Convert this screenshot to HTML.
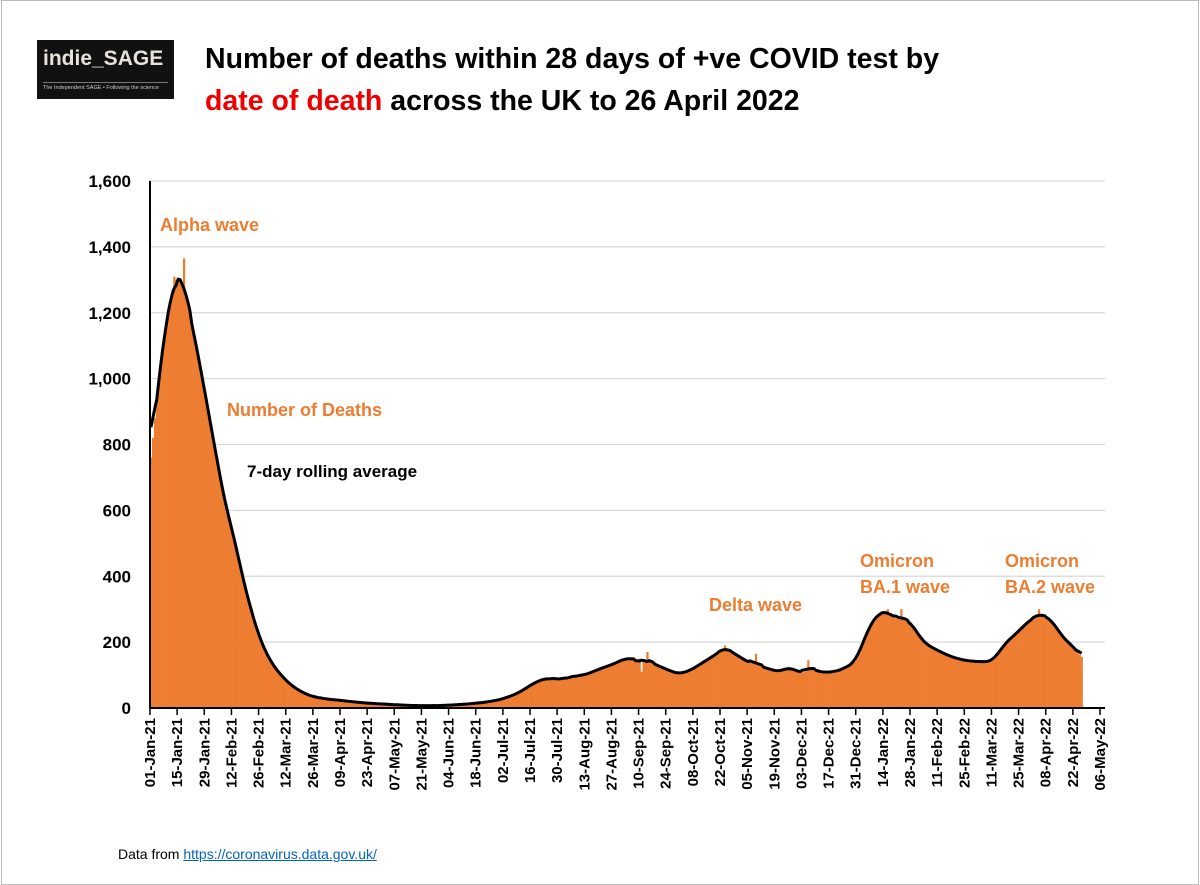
<!DOCTYPE html>
<html><head><meta charset="utf-8"><style>
body{margin:0;background:#fff;font-family:"Liberation Sans",sans-serif}
#wrap{position:relative;width:1200px;height:885px;overflow:hidden;background:#fff}
.t{position:absolute;font-family:"Liberation Sans",sans-serif;font-weight:bold;white-space:nowrap}
</style></head><body>
<div id="wrap">
<div style="position:absolute;left:1px;top:0;width:1196px;height:883px;border:1px solid #bbb"></div>
<div style="position:absolute;left:37px;top:40px;width:137px;height:59px;background:#111">
  <div style="position:absolute;left:6px;top:7px;color:#e8e2da;font-family:'Liberation Sans',sans-serif;font-weight:bold;font-size:21px">indie_SAGE</div>
  <div style="position:absolute;left:6px;top:42px;width:125px;border-top:1px solid #777"></div>
  <div style="position:absolute;left:6px;top:45px;color:#ccc;font-size:5.5px">The Independent SAGE • Following the science</div>
</div>
<div class="t" style="left:205px;top:38px;font-size:28.5px;line-height:42px;color:#000">Number of deaths within 28 days of +ve COVID test by<br><span style="color:#e00">date of death</span> across the UK to 26 April 2022</div>
<svg id="svg" width="1200" height="885" style="position:absolute;left:0;top:0"></svg>
<div class="t" style="left:160px;top:215px;font-size:18px;color:#ED7D31">Alpha wave</div>
<div class="t" style="left:227px;top:400px;font-size:18px;color:#ED7D31">Number of Deaths</div>
<div class="t" style="left:247px;top:462px;font-size:17px;color:#000">7-day rolling average</div>
<div class="t" style="left:709px;top:595px;font-size:18px;color:#ED7D31">Delta wave</div>
<div class="t" style="left:860px;top:548px;font-size:18px;line-height:26px;color:#ED7D31">Omicron<br>BA.1 wave</div>
<div class="t" style="left:1005px;top:548px;font-size:18px;line-height:26px;color:#ED7D31">Omicron<br>BA.2 wave</div>
<div style="position:absolute;left:118px;top:846px;font-size:14px;color:#000">Data from <a href="#" style="color:#0563C1">https://coronavirus.data.gov.uk/</a></div>
</div>
<script>
const yTicks=[0,200,400,600,800,1000,1200,1400,1600];
const xTickLabels=["01-Jan-21","15-Jan-21","29-Jan-21","12-Feb-21","26-Feb-21","12-Mar-21","26-Mar-21","09-Apr-21","23-Apr-21","07-May-21","21-May-21","04-Jun-21","18-Jun-21","02-Jul-21","16-Jul-21","30-Jul-21","13-Aug-21","27-Aug-21","10-Sep-21","24-Sep-21","08-Oct-21","22-Oct-21","05-Nov-21","19-Nov-21","03-Dec-21","17-Dec-21","31-Dec-21","14-Jan-22","28-Jan-22","11-Feb-22","25-Feb-22","11-Mar-22","25-Mar-22","08-Apr-22","22-Apr-22","06-May-22"];
const dailyDeaths=[
760,820,880,950,1000,1050,1100, 1130,1170,1210,1240,1270,1310,1300, 1300,1290,1280,1365,1260,1220,1200,
1170,1140,1110,1080,1050,1020,990, 950,920,880,860,820,790,760, 720,690,660,630,600,580,560,
540,515,490,460,430,400,380, 360,335,310,290,270,250,230, 215,200,185,172,160,150,140,
130,122,115,108,100,94,88, 82,76,72,66,62,58,55, 52,48,45,42,40,38,36,
34,33,32,31,30,29,28, 27,26,26,25,25,24,24, 23,22,22,21,20,20,19,
18,18,17,17,16,16,15, 15,14,14,14,13,13,13, 12,12,12,11,11,11,10,
10,10,9,9,9,9,8, 8,8,8,7,7,8,7, 7,7,7,8,7,7,7,
7,8,8,7,8,9,8, 9,9,10,9,10,11,11, 11,12,12,13,13,14,14,
15,15,16,17,17,18,19, 20,21,22,23,24,26,27, 29,31,33,35,37,40,42,
45,48,51,55,58,62,66, 70,74,78,80,82,84,86, 88,90,92,90,88,86,88,
90,92,88,86,90,92,94, 95,96,98,100,98,96,100, 102,104,106,108,110,112,115,
118,120,122,125,126,128,130, 132,135,138,140,142,146,150, 152,150,148,152,150,145,148,
150,110,148,145,170,140,138, 135,132,130,128,125,122,120, 118,115,112,110,108,106,105,
104,106,108,110,112,115,118, 120,124,128,132,136,140,144, 146,150,154,158,162,166,170,
174,178,190,180,176,172,168, 165,162,158,155,150,146,142, 140,138,136,134,165,130,128,
126,124,122,120,118,116,115, 114,112,110,112,114,118,122, 125,122,118,115,112,110,108,
108,110,112,145,118,120,118, 115,112,110,108,106,108,110, 112,110,108,110,112,115,118,
120,122,125,128,132,136,140, 150,165,180,195,210,225,240, 252,262,270,278,284,288,290,
292,290,300,285,280,275,272, 272,270,300,268,265,265,265, 260,250,240,230,220,212,205,
200,194,190,186,182,180,178, 176,172,168,165,162,160,158, 156,154,152,150,148,147,146,
145,144,143,142,142,141,141, 142,141,140,140,140,141,142, 144,150,158,166,175,184,192,
198,204,210,215,220,225,230, 235,242,248,255,260,265,270, 272,275,278,300,282,282,280,
275,272,268,262,255,245,235, 225,218,210,205,200,195,190, 185,178,170,162,155];
const NS='http://www.w3.org/2000/svg';
const svg=document.getElementById('svg');
const X0=150,X1=1100,Y0=708,Y1=181,DAYS=490;
const xScale=d=>X0+d*(X1-X0)/DAYS;
const yScale=v=>Y0-(v/1600)*(Y0-Y1);
function mk(tag,attrs){const e=document.createElementNS(NS,tag);for(const k in attrs)e.setAttribute(k,attrs[k]);svg.appendChild(e);return e;}
yTicks.forEach(v=>{
  if(v>0){const g=mk('line',{x1:X0,x2:1105,y1:yScale(v),y2:yScale(v),stroke:'#d9d9d9','stroke-width':1.3});
  
  }
  const t=mk('text',{x:131,y:yScale(v)+6,'text-anchor':'end','font-family':'Liberation Sans, sans-serif','font-weight':'bold','font-size':17});
  t.textContent=v.toLocaleString('en-US');
  
  
});
const bw=(X1-X0)/DAYS;
dailyDeaths.forEach((v,i)=>{
  const r=mk('rect',{x:xScale(i),y:yScale(v),width:bw+0.3,height:Y0-yScale(v),fill:'#ED7D31'});
  
  
});
const pts=dailyDeaths.map((v,i)=>{let s=0,n=0;for(let j=i-3;j<=i+3;j++){if(j>=0&&j<dailyDeaths.length){s+=dailyDeaths[j];n++;}}return [xScale(i)+bw/2,yScale(s/n)];});
const line=mk('polyline',{points:pts.map(p=>p.join(',')).join(' '),fill:'none',stroke:'#000','stroke-width':3,'stroke-linejoin':'round'});


const ya=mk('line',{x1:X0,x2:X0,y1:Y1,y2:Y0,stroke:'#000','stroke-width':2});


const xa=mk('line',{x1:X0,x2:1105,y1:Y0,y2:Y0,stroke:'#000','stroke-width':2});


xTickLabels.forEach((lab,i)=>{
  const x=xScale(i*14);
  const tk=mk('line',{x1:x,x2:x,y1:Y0,y2:Y0+7,stroke:'#000','stroke-width':1.5});
  
  
  const t=mk('text',{x:0,y:0,'text-anchor':'end','font-family':'Liberation Sans, sans-serif','font-weight':'bold','font-size':15,transform:`translate(${x+5},${Y0+10}) rotate(-90)`});
  t.textContent=lab;
  
  
});
</script>
</body></html>
